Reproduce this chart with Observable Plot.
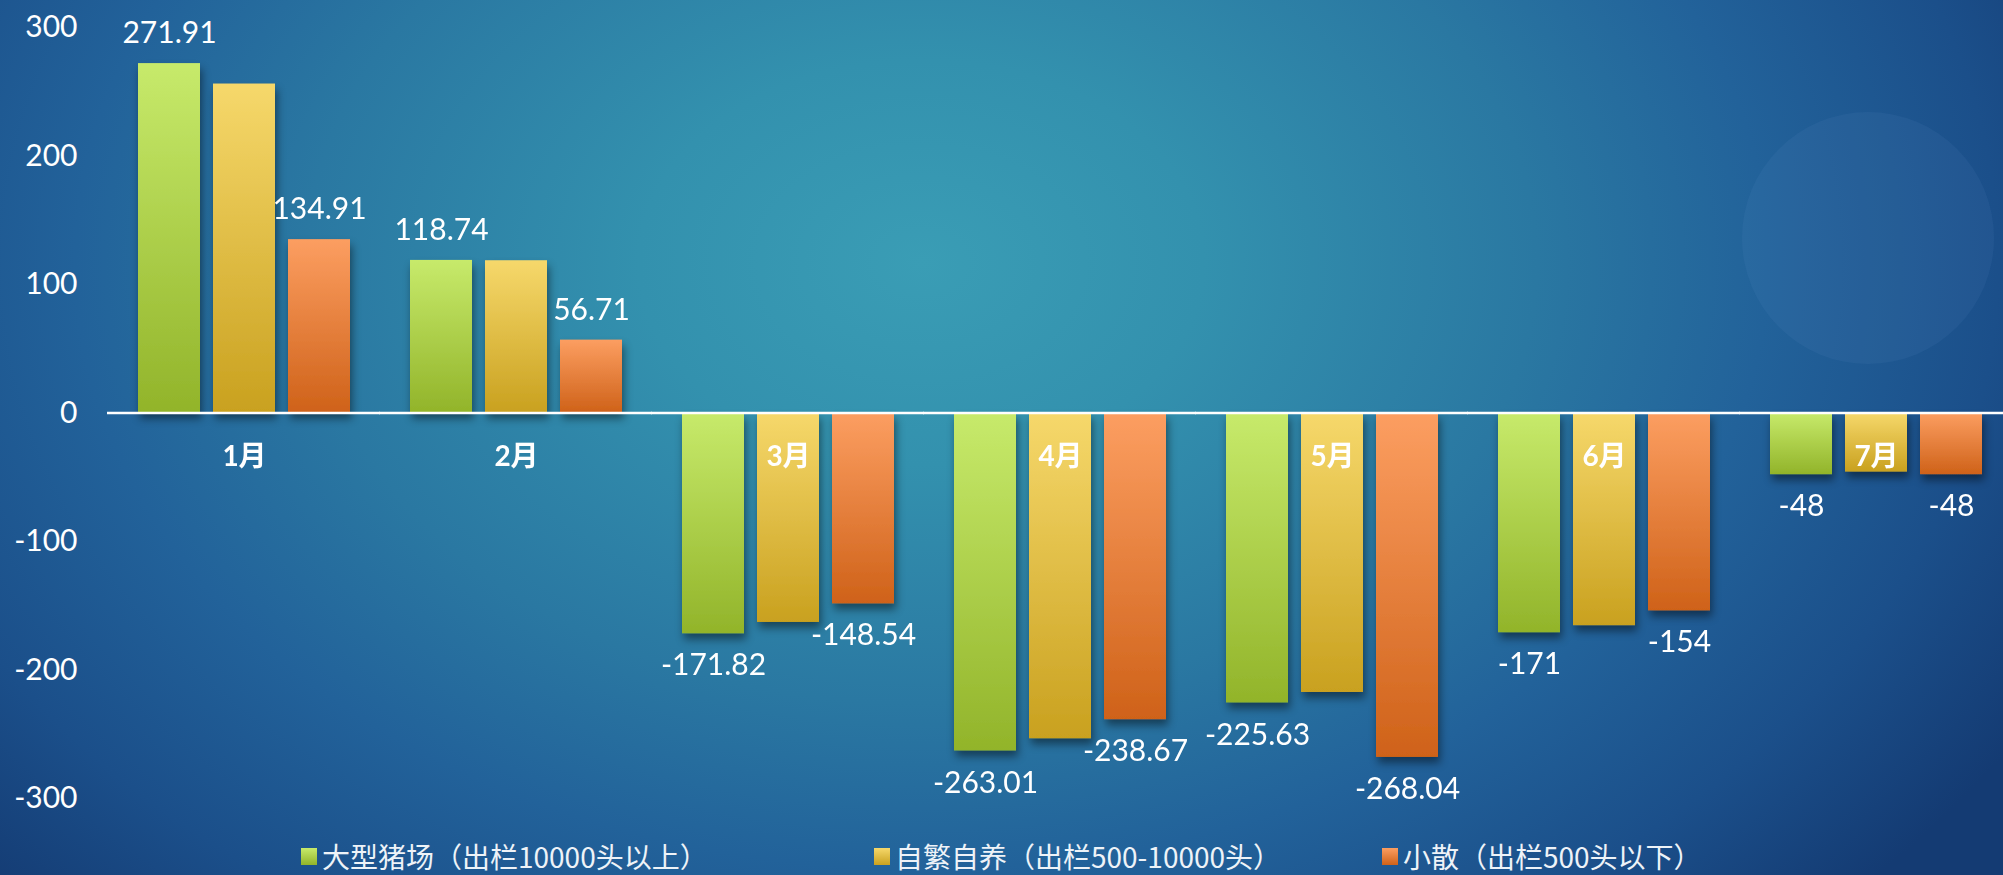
<!DOCTYPE html>
<html><head><meta charset="utf-8">
<script src="https://cdn.jsdelivr.net/npm/d3@7"></script>
<script src="https://cdn.jsdelivr.net/npm/@observablehq/plot@0.6"></script>
<style>
html,body{margin:0;padding:0;overflow:hidden;background:#1a4a84;}
#wrap{position:relative;width:2003px;height:875px;overflow:hidden;
background: radial-gradient(ellipse 64% 105% at 46% 30%, #3a9db5 0%, #3391ae 22%, #2a78a2 48%, #22629a 66%, #1b4f8a 84%, #143b73 100%);}
#circle{position:absolute;left:1742px;top:112px;width:252px;height:252px;border-radius:50%;background:rgba(110,160,210,0.09);}
#chart{position:absolute;left:0;top:0;}
#legend{position:absolute;top:840px;left:0;width:2003px;height:32px;font-family:"Noto Sans CJK SC","Noto Sans",sans-serif;font-size:28px;line-height:32px;color:#eef3f8;}
.item{position:absolute;top:0;display:flex;align-items:center;height:32px;line-height:32px;white-space:nowrap;}
.sw{width:16px;height:17px;margin-right:5px;}
</style></head>
<body>
<div id="wrap"><div id="circle"></div><div id="chart"></div><div id="legend"></div></div>
<script>
// ---- data ----
const months = ["1月", "2月", "3月", "4月", "5月", "6月", "7月"];
const series = ["大型猪场（出栏10000头以上）", "自繁自养（出栏500-10000头）", "小散（出栏500头以下）"];
const largeFarm = [271.91, 118.74, -171.82, -263.01, -225.63, -171, -48];
const selfBreed = [256, 118.5, -163, -253.5, -217.5, -165.5, -46];
const smallScale = [134.91, 56.71, -148.54, -238.67, -268.04, -154, -48];
const labeledSeries = [series[0], series[2]];
const yTicks = [-300, -200, -100, 0, 100, 200, 300];
const topColors = ["#c7ea6b", "#f6d86b", "#fc9e61"];
const bottomColors = ["#92b42a", "#c9a11f", "#cf6219"];

const valuesBySeries = [largeFarm, selfBreed, smallScale];
const rows = months.flatMap((m, i) => series.map((s, j) => ({month: m, series: s, value: valuesBySeries[j][i]})));
const labeled = rows.filter(d => labeledSeries.includes(d.series));

const plot = Plot.plot({
  width: 2003, height: 830,
  marginLeft: 115, marginRight: 0, marginTop: 27, marginBottom: 32,
  style: {background: "transparent", color: "white", fontFamily: "Lato, 'Noto Sans', sans-serif"},
  fx: {domain: months, paddingInner: 0.2183, paddingOuter: 0.0734, axis: null, label: null},
  x: {domain: series, paddingInner: 0.179, paddingOuter: 0, axis: null, label: null},
  y: {domain: [-300, 300], axis: null},
  color: {domain: series, range: series.map((s, i) => `url(#grad${i})`)},
  marks: [
    Plot.axisY(yTicks, {tickSize: 0, tickPadding: 60, fontSize: 30, tickFormat: d => String(d), label: null, fill: "white"}),
    Plot.barY(rows, {fx: "month", x: "series", y: "value", fill: "series"}),
    Plot.ruleY([0], {stroke: "white", strokeWidth: 2.5, insetLeft: -30, insetRight: -30}),
    Plot.text(labeled.filter(d => d.value >= 0), {fx: "month", x: "series", y: "value", text: d => String(d.value), dy: -30, fontSize: 30, fill: "white"}),
    Plot.text(labeled.filter(d => d.value < 0), {fx: "month", x: "series", y: "value", text: d => String(d.value), dy: 32, fontSize: 30, fill: "white"}),
    Plot.text(months, {fx: d => d, x: () => series[1], y: () => 0, text: d => d, dy: 44, fontSize: 28, fontWeight: "bold", fill: "white",
      fontFamily: "Lato, 'Noto Sans CJK SC', sans-serif"})
  ]
});

const svg = d3.select(plot);
const defs = svg.insert("defs", ":first-child");
series.forEach((s, i) => {
  const lg = defs.append("linearGradient").attr("id", `grad${i}`).attr("x1", 0).attr("y1", 0).attr("x2", 0).attr("y2", 1);
  lg.append("stop").attr("offset", "0%").attr("stop-color", topColors[i]);
  lg.append("stop").attr("offset", "100%").attr("stop-color", bottomColors[i]);
});
const f = defs.append("filter").attr("id", "shadow").attr("x", "-20%").attr("y", "-10%").attr("width", "150%").attr("height", "130%");
f.append("feDropShadow").attr("dx", 2).attr("dy", 6).attr("stdDeviation", 4).attr("flood-color", "#000").attr("flood-opacity", 0.45);
svg.selectAll('g[aria-label="bar"]').attr("filter", "url(#shadow)");

document.getElementById("chart").appendChild(plot);

// legend
const legendLefts = [301, 874, 1382];
const legend = d3.select("#legend");
series.forEach((s, i) => {
  const it = legend.append("div").attr("class", "item").style("left", legendLefts[i] + "px");
  it.append("div").attr("class", "sw").style("background", `linear-gradient(${topColors[i]}, ${bottomColors[i]})`);
  it.append("span").text(s);
});
</script>
</body></html>
